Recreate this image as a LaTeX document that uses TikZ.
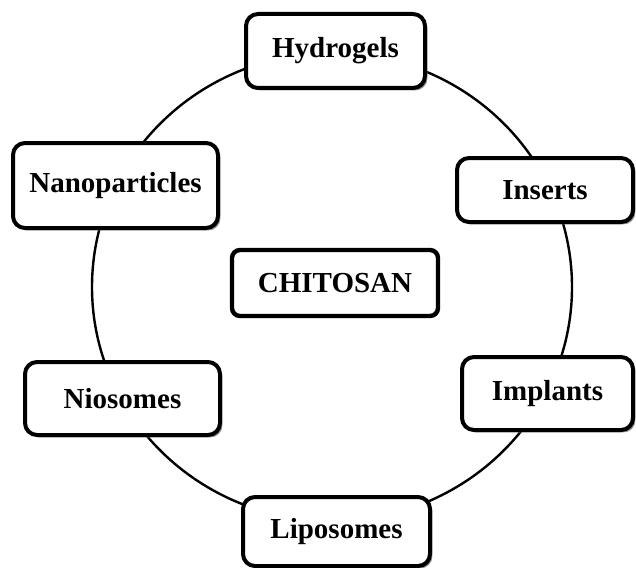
\documentclass[tikz,border=0pt]{standalone}
\usepackage{fontspec}
\setmainfont{Liberation Serif}
\usetikzlibrary{shadows}

\begin{document}
\begin{tikzpicture}[
		x=0.5pt, y=-0.5pt,
		b/.style 2 args = {rectangle, rounded corners=6pt, draw=black, line width=2pt, fill=white,
			drop shadow={shadow xshift=1.2pt, shadow yshift=-1.2pt, fill=black!45, opacity=1},
			font=\fontsize{14.5}{17}\selectfont\bfseries,
			minimum width=#1*0.5pt, minimum height=#2*0.5pt, inner sep=0pt},
		c/.style 2 args = {rectangle, rounded corners=4pt, draw=black, line width=2.2pt, fill=white,
			font=\fontsize{14.5}{17}\selectfont\bfseries,
			minimum width=#1*0.5pt, minimum height=#2*0.5pt, inner sep=0pt},
		ring/.style = {draw=black, line width=1.2pt}
		]
		\useasboundingbox (0,0) rectangle (636,567);

		%Ring
		\draw[ring]	(332,287)	ellipse	[x radius=120pt, y radius=117pt];

		%Nodes
		\node[c={206}{66}]	(chitosan)	at	(335, 283)		{CHITOSAN};

		\node[b={179}{74}]	(hydro)		at	(335.5, 51)		{Hydrogels};
		\node[b={205}{85}]	(nano)		at	(115.5, 185.5)	{Nanoparticles};
		\node[b={176}{64}]	(inserts)	at	(545, 190)		{Inserts};
		\node[b={195}{73}]	(nio)		at	(122.5, 398.5)	{Niosomes};
		\node[b={171}{73}]	(implants)	at	(547.5, 393.5)	{Implants};
		\node[b={187}{69}]	(lipo)		at	(336.5, 531.5)	{Liposomes};
	\end{tikzpicture}
\end{document}
